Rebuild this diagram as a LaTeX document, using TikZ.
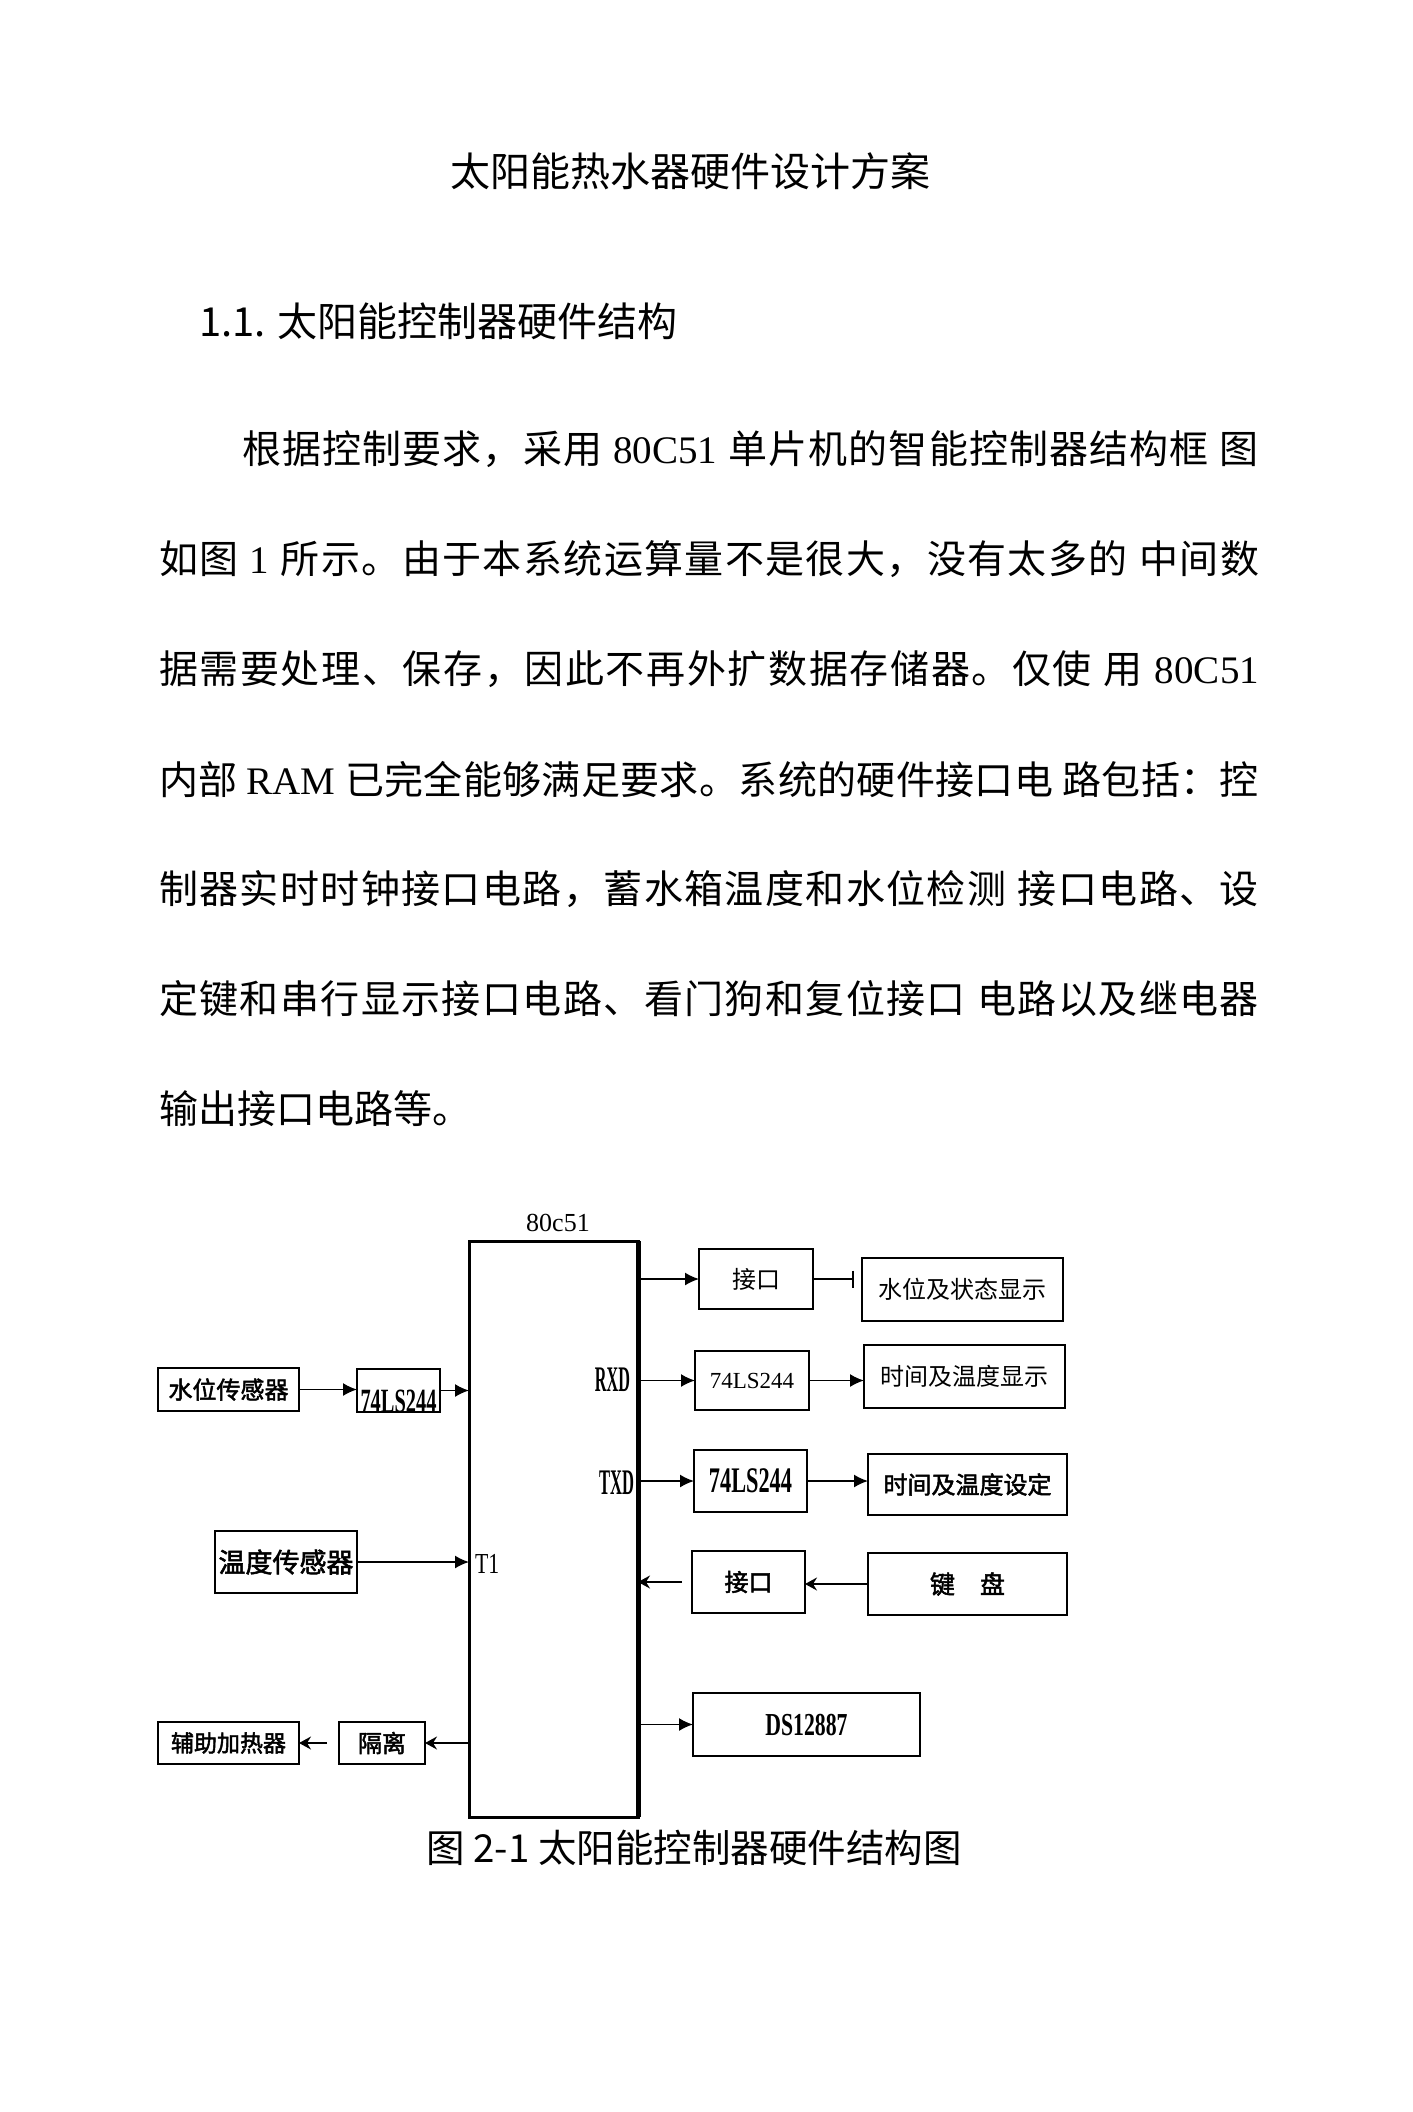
\documentclass[tikz,border=0pt]{standalone}
\usepackage{fontspec}
\setmainfont{Noto Sans CJK SC}
\newfontfamily\cjkb[FakeBold=2]{Noto Sans CJK SC}
\newfontfamily\lat{Liberation Serif}
\usetikzlibrary{arrows.meta}
\newcommand{\fsz}[1]{\fontsize{#1pt}{#1pt}\selectfont}
\newcommand{\cnd}[2]{\scalebox{#1}[1]{#2}}
\def\spreadfirst#1{#1\spreadrest}
\def\spreadrest#1{\ifx\relax#1\else\hskip 0pt plus 1fil minus 4pt\relax#1\expandafter\spreadrest\fi}
\tikzset{
  bx/.style={draw, line width=2pt, inner sep=0pt, outer sep=0pt},
  txt/.style={inner sep=0pt, outer sep=0pt},
  arr/.style={line width=1.6pt, -{Latex[length=14pt,width=13pt]}},
  sarr/.style={line width=1.6pt, -{Stealth[length=12pt,width=13pt,inset=4pt]}},
  teeline/.style={line width=1.6pt, -{Bar[width=17pt]}}
}
\begin{document}
\begin{tikzpicture}[x=1pt,y=-1pt]
\fill[white] (0,0) rectangle (1413,2112);
\path[use as bounding box] (0,0) rectangle (1413,2112);

% ---------- text ----------
\node[txt] (title) at (690,171) {\fsz{40}太阳能热水器硬件设计方案};
\node[txt, anchor=west] (head) at (199,321) {\fsz{40}1.1. 太阳能控制器硬件结构};

\node[txt, anchor=west] (p1) at (242,449) {\fsz{39}\makebox[1017pt][s]{\spreadfirst 根据控制要求，采用~{{\lat 80C51}}~单片机的智能控制器结构框~图\relax}};
\node[txt, anchor=west] (p2) at (159,559) {\fsz{39}\makebox[1100pt][s]{\spreadfirst 如图~{{\lat 1}}~所示。由于本系统运算量不是很大，没有太多的~中间数\relax}};
\node[txt, anchor=west] (p3) at (159,669) {\fsz{39}\makebox[1100pt][s]{\spreadfirst 据需要处理、保存，因此不再外扩数据存储器。仅使~用~{{\lat 80C51}}\relax}};
\node[txt, anchor=west] (p4) at (159,779) {\fsz{39}\makebox[1100pt][s]{\spreadfirst 内部~{{\lat RAM}}~已完全能够满足要求。系统的硬件接口电~路包括：控\relax}};
\node[txt, anchor=west] (p5) at (159,889) {\fsz{39}\makebox[1100pt][s]{\spreadfirst 制器实时时钟接口电路，蓄水箱温度和水位检测~接口电路、设\relax}};
\node[txt, anchor=west] (p6) at (159,999) {\fsz{39}\makebox[1100pt][s]{\spreadfirst 定键和串行显示接口电路、看门狗和复位接口~电路以及继电器\relax}};
\node[txt, anchor=west] (p7) at (159,1109) {\fsz{39}输出接口电路等。};

% ---------- main chip ----------
\node[txt, minimum width=169pt, minimum height=576pt] (main) at (553.5,1529) {};
\draw[line width=3pt] (main.north west) rectangle (main.south east);
\draw[line width=5pt] (main.north east) -- (main.south east);
\node[txt] (lbl) at (558,1223) {\lat\fsz{26}80c51};
\node[txt, anchor=east] (rxd) at (630,1380) {\lat\bfseries\fsz{36}\cnd{0.45}{RXD}};
\node[txt, anchor=east] (txd) at (634,1483) {\lat\bfseries\fsz{36}\cnd{0.46}{TXD}};
\node[txt, anchor=west] (t1) at (475,1564) {\lat\fsz{29}\cnd{0.75}{T1}};

% ---------- left side ----------
\node[bx, minimum width=141pt, minimum height=43pt] (wsens) at (228.5,1389.5) {\cjkb\fsz{24}水位传感器};
\node[bx, minimum width=83pt, minimum height=43pt] (lbuf) at (398.5,1390.5) {};
\node[txt] (lbuft) at (398.5,1401) {\lat\bfseries\fsz{34}\cnd{0.6}{74LS244}};
\node[bx, minimum width=142pt, minimum height=62pt] (tsens) at (286,1562) {\cjkb\fsz{27}温度传感器};
\node[bx, minimum width=141pt, minimum height=42pt] (heater) at (228.5,1743) {\cjkb\fsz{23}辅助加热器};
\node[bx, minimum width=86pt, minimum height=42pt] (iso) at (382,1743) {\cjkb\fsz{24}隔离};

% ---------- right side ----------
\node[bx, minimum width=114pt, minimum height=60pt] (if1) at (756,1279) {\fsz{24}接口};
\node[bx, minimum width=201pt, minimum height=63pt] (disp1) at (962.5,1289.5) {\fsz{24}水位及状态显示};
\node[bx, minimum width=114pt, minimum height=59pt] (buf2) at (752,1380.5) {\lat\fsz{23}74LS244};
\node[bx, minimum width=201pt, minimum height=63pt] (disp2) at (964.5,1376.5) {\fsz{24}时间及温度显示};
\node[bx, minimum width=113pt, minimum height=62pt] (buf3) at (750.5,1481) {\lat\bfseries\fsz{36}\cnd{0.62}{74LS244}};
\node[bx, minimum width=199pt, minimum height=61pt] (setb) at (967.5,1484.5) {\cjkb\fsz{24}时间及温度设定};
\node[bx, minimum width=113pt, minimum height=62pt] (if2) at (748.5,1582) {\cjkb\fsz{24}接口};
\node[bx, minimum width=199pt, minimum height=62pt] (kbd) at (967.5,1584) {\cjkb\fsz{25}键　盘};
\node[bx, minimum width=227pt, minimum height=63pt] (rtc) at (806.5,1724.5) {\lat\bfseries\fsz{32}\cnd{0.68}{DS12887}};

% ---------- connectors ----------
\draw[arr] (wsens.east) -- (wsens.east -| lbuf.west);
\draw[arr] (lbuf.east) -- (lbuf.east -| main.west);
\draw[arr] (tsens.east) -- (tsens.east -| main.west);
\draw[sarr] (iso.east -| main.west) -- (iso.east);
\draw[sarr] ([xshift=-12pt]iso.west) -- (heater.east);

\draw[arr] (if1.west -| main.east) -- (if1.west);
\path (if1.east -| disp1.west) coordinate (teeend);
\draw[teeline] (if1.east) -- ([xshift=-8pt]teeend);
\draw[arr] (buf2.west -| main.east) -- (buf2.west);
\draw[arr] (buf2.east) -- (buf2.east -| disp2.west);
\draw[arr] (buf3.west -| main.east) -- (buf3.west);
\draw[arr] (buf3.east) -- (buf3.east -| setb.west);
\draw[sarr] (kbd.west) -- (kbd.west -| if2.east);
\draw[sarr] ([xshift=-10pt]if2.west) -- (if2.west -| main.east);
\draw[arr] (rtc.west -| main.east) -- (rtc.west);

% ---------- caption ----------
\node[txt] (cap) at (694,1848) {\fsz{38.5}图 2-1 太阳能控制器硬件结构图};
\end{tikzpicture}
\end{document}
